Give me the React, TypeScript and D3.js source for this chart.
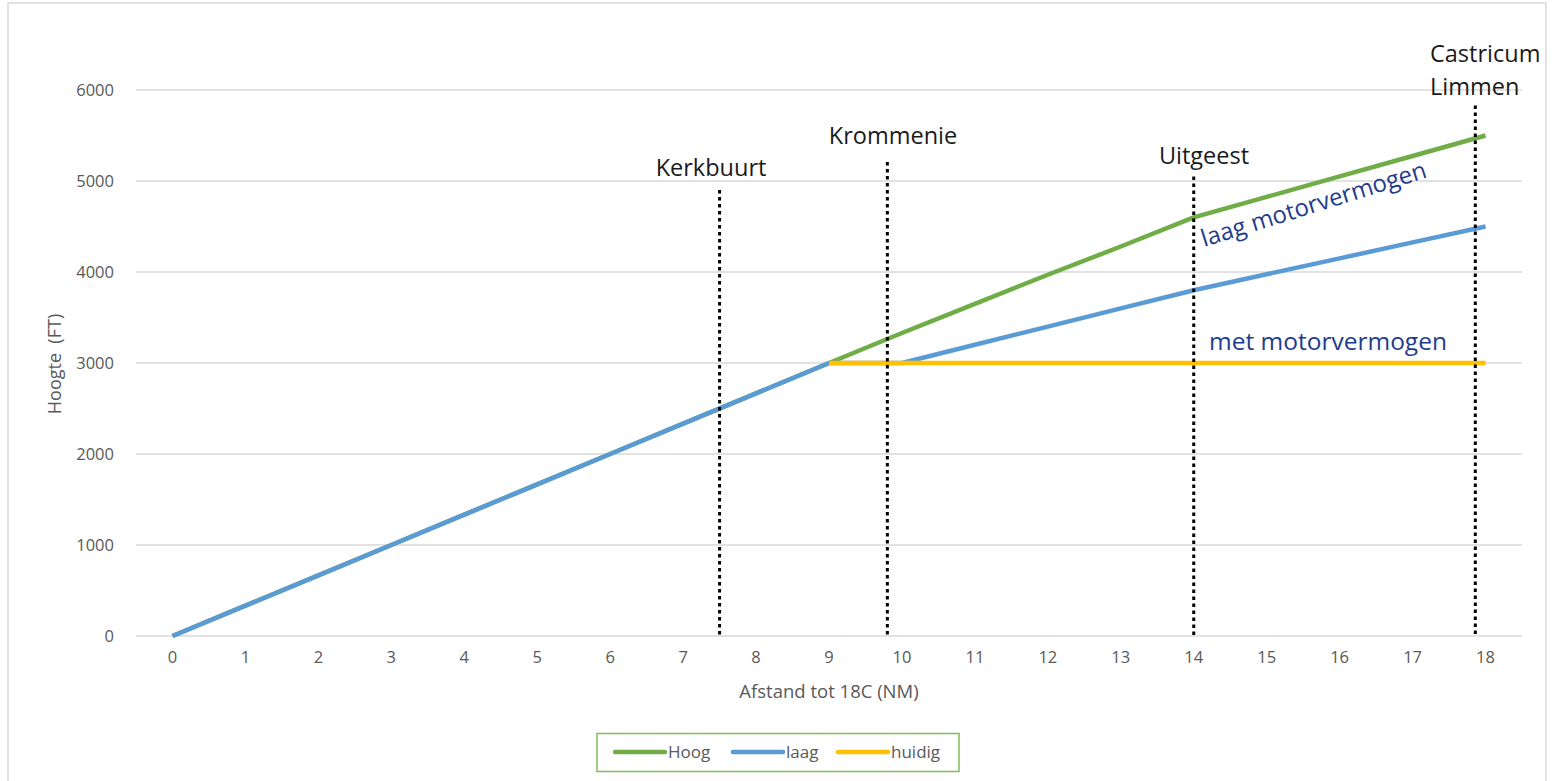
import React, { useEffect, useRef } from "react";
import * as d3 from "d3";

// afstand tot 18C (NM), one category per NM
const distances = [0, 1, 2, 3, 4, 5, 6, 7, 8, 9, 10, 11, 12, 13, 14, 15, 16, 17, 18];

// hoogte (FT) per series
const hoog = [0, 333, 667, 1000, 1333, 1667, 2000, 2333, 2667, 3000, 3330, 3650, 3970, 4280, 4600, 4825, 5050, 5275, 5500];
const laag = [0, 333, 667, 1000, 1333, 1667, 2000, 2333, 2667, 3000, 3000, 3200, 3400, 3600, 3800, 3975, 4150, 4325, 4500];
const huidig = [null, null, null, null, null, null, null, null, null, 3000, 3000, 3000, 3000, 3000, 3000, 3000, 3000, 3000, 3000];

const seriesNames = ["Hoog", "laag", "huidig"];
const seriesColors = ["#70ad47", "#5b9bd5", "#ffc000"];

const yTicks = [0, 1000, 2000, 3000, 4000, 5000, 6000];

// plaatsen langs de route: positie (NM) en tot welke hoogte de stippellijn loopt
const placeNames = ["Kerkbuurt", "Krommenie", "Uitgeest", "Castricum\nLimmen"];
const placeDistances = [7.5, 9.8, 14, 17.86];
const placeTops = [4900, 5210, 5050, 5830];

function App() {
  const ref = useRef<SVGSVGElement>(null);

  useEffect(() => {
    const height = 781;

    const svg = d3.select(ref.current);
    svg.selectAll("*").remove();

    // chart frame
    svg.append("path")
      .attr("d", `M8,${height} V3 H1546 V${height}`)
      .attr("fill", "none")
      .attr("stroke", "#d9d9d9")
      .attr("stroke-width", 1.5);

    // scales: categories sit in the middle of their slot, so half a step padding on both sides
    const x = d3.scaleLinear().domain([-0.5, 18.5]).range([136, 1522]);
    const y = d3.scaleLinear().domain([0, 6000]).range([636, 90]);

    const font = "'Open Sans', sans-serif";

    // horizontal gridlines
    svg.append("g")
      .selectAll("line")
      .data(yTicks)
      .join("line")
      .attr("x1", x(-0.5))
      .attr("x2", x(18.5))
      .attr("y1", d => y(d))
      .attr("y2", d => y(d))
      .attr("stroke", "#d9d9d9")
      .attr("stroke-width", 1.3);

    // y tick labels
    svg.append("g")
      .selectAll("text")
      .data(yTicks)
      .join("text")
      .attr("x", 114)
      .attr("y", d => y(d))
      .attr("dy", "0.35em")
      .attr("text-anchor", "end")
      .attr("font-family", font)
      .attr("font-size", 16.5)
      .attr("fill", "#595959")
      .text(d => d);

    // x tick labels
    svg.append("g")
      .selectAll("text")
      .data(distances)
      .join("text")
      .attr("x", d => x(d))
      .attr("y", 663)
      .attr("text-anchor", "middle")
      .attr("font-family", font)
      .attr("font-size", 16.5)
      .attr("fill", "#595959")
      .text(d => d);

    // axis titles
    svg.append("text")
      .attr("x", 829)
      .attr("y", 698)
      .attr("text-anchor", "middle")
      .attr("font-family", font)
      .attr("font-size", 18.5)
      .attr("fill", "#595959")
      .text("Afstand tot 18C (NM)");

    svg.append("text")
      .attr("transform", "translate(61,364) rotate(-90)")
      .attr("text-anchor", "middle")
      .attr("font-family", font)
      .attr("font-size", 18)
      .attr("fill", "#595959")
      .attr("xml:space", "preserve")
      .text("Hoogte  (FT)");

    // series lines
    const allSeries = [hoog, laag, huidig];
    const line = d3.line<number | null>()
      .defined(d => d !== null)
      .x((d, i) => x(distances[i]))
      .y(d => y(d as number));

    svg.append("g")
      .selectAll("path")
      .data(allSeries)
      .join("path")
      .attr("d", d => line(d))
      .attr("fill", "none")
      .attr("stroke", (d, i) => seriesColors[i])
      .attr("stroke-width", 4.5)
      .attr("stroke-linejoin", "round");

    // dotted lines for the places
    svg.append("g")
      .selectAll("line")
      .data(placeDistances)
      .join("line")
      .attr("x1", d => x(d))
      .attr("x2", d => x(d))
      .attr("y1", (d, i) => y(placeTops[i]))
      .attr("y2", y(0))
      .attr("stroke", "#000")
      .attr("stroke-width", 3)
      .attr("stroke-dasharray", "3.5,3.5");

    // place labels
    const labelPos = [
      { x: 711, y: 176, anchor: "middle" },
      { x: 893, y: 144, anchor: "middle" },
      { x: 1204, y: 164, anchor: "middle" },
      { x: 1430, y: 62, anchor: "start" },
    ];
    placeNames.forEach((name, i) => {
      const t = svg.append("text")
        .attr("x", labelPos[i].x)
        .attr("y", labelPos[i].y)
        .attr("text-anchor", labelPos[i].anchor)
        .attr("font-family", font)
        .attr("font-size", 23.5)
        .attr("fill", "#1a1a1a");
      name.split("\n").forEach((part, j) => {
        t.append("tspan")
          .attr("x", labelPos[i].x)
          .attr("dy", j === 0 ? 0 : 33)
          .text(part);
      });
    });

    // annotations in dark blue
    svg.append("text")
      .attr("transform", "translate(1204,247) rotate(-17.3)")
      .attr("font-family", font)
      .attr("font-size", 24)
      .attr("fill", "#1f3c8c")
      .text("laag motorvermogen");

    svg.append("text")
      .attr("x", 1209)
      .attr("y", 350)
      .attr("font-family", font)
      .attr("font-size", 24.5)
      .attr("fill", "#1f3c8c")
      .text("met motorvermogen");

    // legend
    svg.append("rect")
      .attr("x", 597)
      .attr("y", 733.5)
      .attr("width", 362)
      .attr("height", 38)
      .attr("fill", "#fff")
      .attr("stroke", "#7bbf5a")
      .attr("stroke-width", 1.5);

    const legendX = [615, 733, 838];
    const legend = svg.append("g")
      .selectAll("g")
      .data(seriesNames)
      .join("g")
      .attr("transform", (d, i) => `translate(${legendX[i]},752)`);

    legend.append("line")
      .attr("x1", 0)
      .attr("x2", 50)
      .attr("stroke", (d, i) => seriesColors[i])
      .attr("stroke-width", 4.5)
      .attr("stroke-linecap", "round");

    legend.append("text")
      .attr("x", 53)
      .attr("y", 6)
      .attr("font-family", font)
      .attr("font-size", 17)
      .attr("fill", "#595959")
      .text(d => d);
  }, []);

  return (
    <div style={{ position: "absolute", left: 0, top: 0 }}>
      <svg ref={ref} width={1553} height={781} style={{ display: "block" }} />
    </div>
  );
}

export default App;
